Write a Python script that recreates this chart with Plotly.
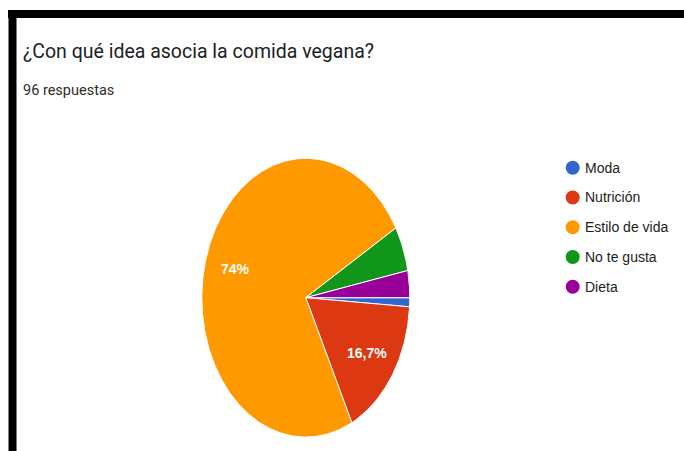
import numpy as np
import plotly.graph_objects as go

# Survey responses
categories = ["Moda", "Nutrición", "Estilo de vida", "No te gusta", "Dieta"]
responses = [1, 16, 71, 5, 3]
colors = ["#3366cc", "#dc3912", "#ff9900", "#109618", "#990099"]

title_text = "¿Con qué idea asocia la comida vegana?"
subtitle_text = f"{sum(responses)} respuestas"

W, H = 684, 451
START_DEG = 90          # clockwise from 12 o'clock
LABEL_R = 0.71          # label distance as a fraction of the radius
LABEL_MIN_SHARE = 0.10  # smaller slices carry no percentage label

# pie ellipse in pixels (centre and radii)
cx, cy, rx, ry = 305.8, 297.7, 104.0, 139.4
pad = 1.05


def pct_label(v, total):
    p = round(v / total * 100, 1)
    s = f"{p:.1f}"
    if s.endswith(".0"):
        s = s[:-2]
    return s.replace(".", ",") + "%"


fig = go.Figure()
total = sum(responses)
annotations = []
acc = 0.0
for cat, val, col in zip(categories, responses, colors):
    a0 = START_DEG + acc / total * 360
    a1 = START_DEG + (acc + val) / total * 360
    n = max(int((a1 - a0) * 2), 2)
    ang = np.radians(90 - np.linspace(a0, a1, n + 1))
    xs = np.concatenate([[0], np.cos(ang), [0]])
    ys = np.concatenate([[0], np.sin(ang), [0]])
    fig.add_trace(go.Scatter(
        x=xs, y=ys, mode="lines", fill="toself", fillcolor=col,
        line=dict(color="white", width=1), name=cat, showlegend=False,
        hoverinfo="text", text=f"{cat}: {val}",
    ))
    if val / total >= LABEL_MIN_SHARE:
        mid = np.radians(90 - (a0 + a1) / 2)
        annotations.append(dict(
            x=LABEL_R * np.cos(mid), y=LABEL_R * np.sin(mid), xref="x", yref="y",
            text=f"<b>{pct_label(val, total)}</b>", showarrow=False,
            font=dict(family="Arial, Liberation Sans", size=14, color="white"),
            xanchor="center", yanchor="middle",
        ))
    acc += val

# title and response count
annotations.append(dict(
    x=21 / W, y=1 - 51.5 / H, xref="paper", yref="paper", text=title_text,
    showarrow=False, xanchor="left", yanchor="middle",
    font=dict(family="Roboto", size=19.5, color="#202124"),
))
annotations.append(dict(
    x=21 / W, y=1 - 90 / H, xref="paper", yref="paper", text=subtitle_text,
    showarrow=False, xanchor="left", yanchor="middle",
    font=dict(family="Roboto", size=14.5, color="#2d2d2d"),
))

# legend: coloured dots and labels
shapes = []
leg_x_dot, leg_x_text, leg_y0, leg_dy = 572.7, 583, 167.7, 29.75
for i, (cat, col) in enumerate(zip(categories, colors)):
    yy = 1 - (leg_y0 + i * leg_dy) / H
    shapes.append(dict(
        type="circle", xref="paper", yref="paper",
        xsizemode="pixel", ysizemode="pixel",
        xanchor=leg_x_dot / W, yanchor=yy, x0=-7, x1=7, y0=-7, y1=7,
        fillcolor=col, line=dict(width=0),
    ))
    annotations.append(dict(
        x=leg_x_text / W, y=yy, xref="paper", yref="paper", text=cat,
        showarrow=False, xanchor="left", yanchor="middle",
        font=dict(family="Arial, Liberation Sans", size=14, color="#222222"),
    ))

# black frame along the top and left edges
shapes.append(dict(type="rect", xref="paper", yref="paper",
                   x0=8 / W, x1=1, y0=1 - 18 / H, y1=1 - 10 / H,
                   fillcolor="black", line=dict(width=0)))
shapes.append(dict(type="rect", xref="paper", yref="paper",
                   x0=8.5 / W, x1=16.5 / W, y0=0, y1=1 - 10 / H,
                   fillcolor="black", line=dict(width=0)))

fig.update_layout(
    width=W, height=H, margin=dict(l=0, r=0, t=0, b=0),
    paper_bgcolor="white", plot_bgcolor="white",
    xaxis=dict(visible=False, range=[-pad, pad], fixedrange=True,
               domain=[(cx - rx * pad) / W, (cx + rx * pad) / W]),
    yaxis=dict(visible=False, range=[-pad, pad], fixedrange=True,
               domain=[(H - cy - ry * pad) / H, (H - cy + ry * pad) / H]),
    annotations=annotations, shapes=shapes, showlegend=False,
)

fig.write_html("out.html")
